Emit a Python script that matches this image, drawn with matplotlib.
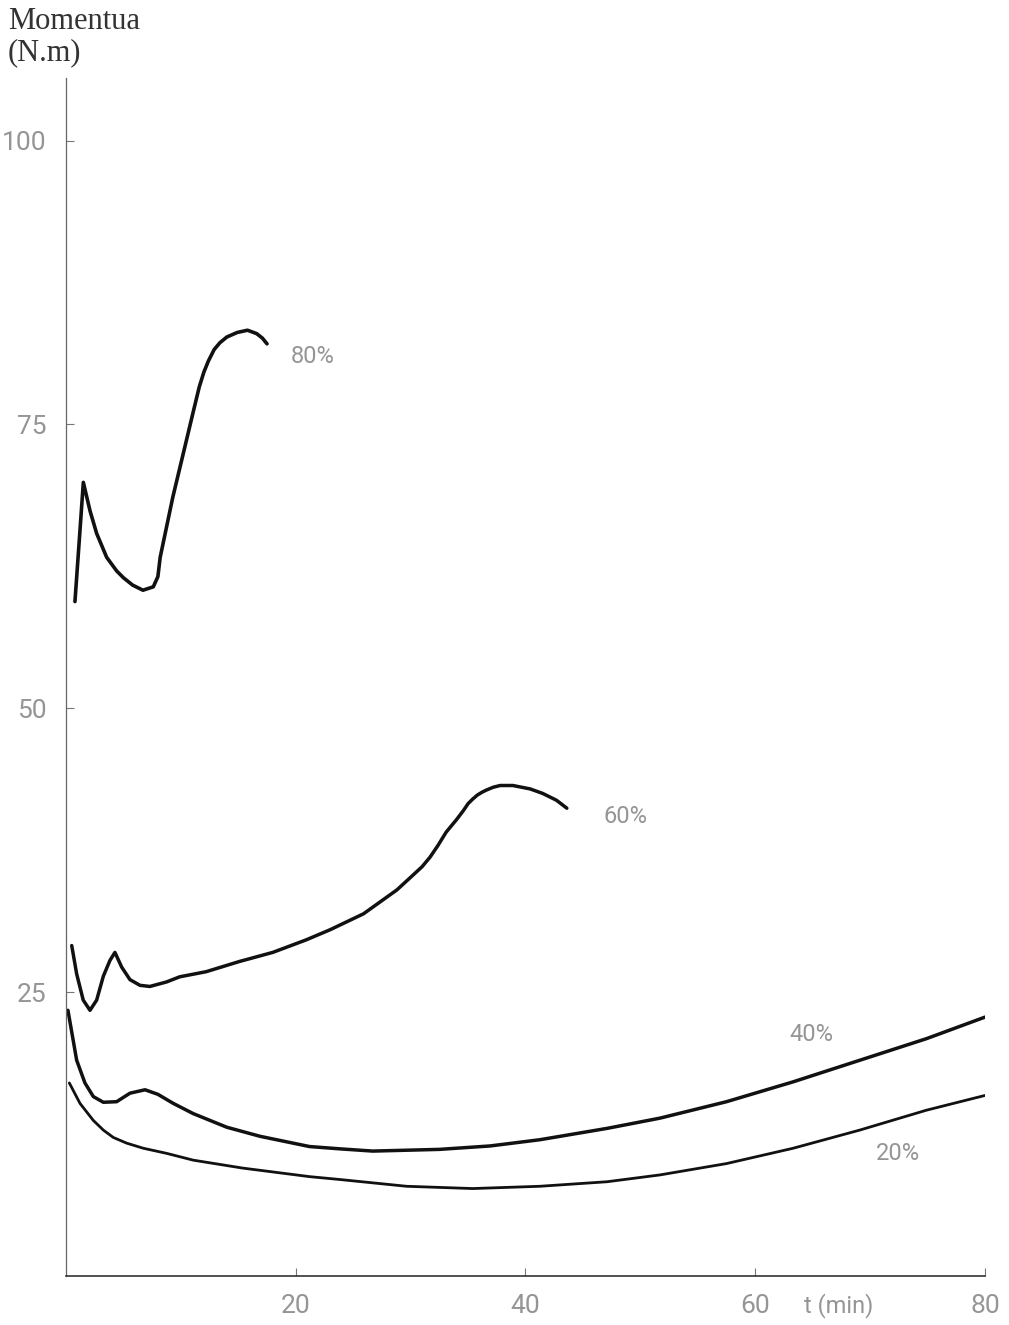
import numpy as np
import matplotlib
matplotlib.use('Agg')
import matplotlib.pyplot as plt

# ---- data (t in min, torque in N.m) ----
t_80 = [0.78, 1.22, 1.51, 2.09, 2.67, 3.54, 4.41, 5.0, 5.8, 6.7, 7.6, 8.0, 8.2, 9.3,
        10.2, 11.05, 11.6, 12.0, 12.4, 12.9, 13.4, 14.0, 14.9, 15.8, 16.6, 17.1, 17.5]
m_80 = [59.4, 65.7, 69.9, 67.4, 65.4, 63.3, 62.1, 61.5, 60.85, 60.4, 60.7, 61.6, 63.3, 68.6,
        72.4, 76.0, 78.3, 79.6, 80.6, 81.6, 82.2, 82.7, 83.1, 83.3, 83.0, 82.6, 82.1]

t_60 = [0.5, 0.93, 1.5, 2.09, 2.67, 3.25, 3.83, 4.26, 4.85, 5.57, 6.44, 7.3, 8.76, 9.9,
        12.2, 15.1, 18.0, 20.9, 23.0, 25.9, 28.8, 30.2, 31.0, 31.7, 32.4, 33.1, 34.0, 34.6,
        35.0, 35.4, 35.8, 36.2, 36.6, 37.2, 37.8, 38.9, 40.4, 41.5, 42.7, 43.6]
m_60 = [29.1, 26.6, 24.3, 23.4, 24.3, 26.4, 27.8, 28.5, 27.2, 26.1, 25.6, 25.5, 25.9, 26.35,
        26.8, 27.7, 28.5, 29.6, 30.5, 31.9, 34.0, 35.3, 36.05, 36.9, 37.95, 39.1, 40.2, 41.0,
        41.6, 42.0, 42.35, 42.6, 42.8, 43.05, 43.2, 43.2, 42.9, 42.5, 41.9, 41.2]

t_40 = [0.17, 0.93, 1.65, 2.38, 3.25, 4.41, 5.57, 6.88, 8.0, 9.34, 11.08, 14.0, 16.9,
        21.2, 23.8, 26.7, 32.5, 36.9, 41.25, 47.1, 51.7, 57.5, 63.3, 69.1, 74.9, 80.0]
m_40 = [23.4, 19.0, 17.0, 15.8, 15.3, 15.35, 16.1, 16.4, 16.0, 15.2, 14.3, 13.1, 12.3,
        11.4, 11.2, 11.0, 11.15, 11.45, 12.0, 13.0, 13.9, 15.35, 17.1, 19.0, 20.9, 22.8]

t_20 = [0.29, 1.22, 2.38, 3.25, 4.12, 5.28, 6.73, 8.76, 11.08, 15.4, 21.2, 23.8, 29.65,
        35.4, 41.25, 47.1, 51.7, 57.5, 63.3, 69.1, 74.9, 80.0]
m_20 = [17.0, 15.2, 13.7, 12.85, 12.2, 11.7, 11.25, 10.8, 10.2, 9.5, 8.75, 8.5, 7.9,
        7.7, 7.9, 8.3, 8.9, 9.9, 11.25, 12.85, 14.6, 15.9]

curve_labels = ['80%', '60%', '40%', '20%']
label_pos = [(19.6, 81.0), (46.8, 40.5), (63.0, 21.3), (70.5, 10.8)]

x_ticks = [20, 40, 60, 80]
y_ticks = [25, 50, 75, 100]

tick_font = ['Roboto', 'DejaVu Sans']
gray = '#959595'

fig = plt.figure(figsize=(10.09, 13.25), dpi=100)
ax = fig.add_axes([0.0654, 0.037, 0.9108, 0.904])

series = [(t_80, m_80, 2.6), (t_60, m_60, 2.5), (t_40, m_40, 2.5), (t_20, m_20, 2.0)]
for t, m, lw in series:
    ax.plot(t, m, color='#111111', linewidth=lw, solid_capstyle='round',
            solid_joinstyle='round')

for lab, (lx, ly) in zip(curve_labels, label_pos):
    ax.text(lx, ly, lab, color=gray, fontsize=17, family=tick_font,
            ha='left', va='center')

ax.set_xlim(0, 80)
ax.set_ylim(0, 105.5)
ax.spines['top'].set_visible(False)
ax.spines['right'].set_visible(False)
ax.spines['left'].set_color('#666666')
ax.spines['left'].set_linewidth(0.9)
ax.spines['bottom'].set_color('#333333')
ax.spines['bottom'].set_linewidth(1.2)

ax.set_xticks(x_ticks)
ax.set_yticks(y_ticks)
ax.set_xticklabels([str(v) for v in x_ticks])
ax.set_yticklabels([str(v) for v in y_ticks])
ax.tick_params(axis='both', direction='in', length=6, width=0.8, colors='#777777',
               labelcolor=gray, labelsize=19)
ax.tick_params(axis='x', pad=13)
ax.tick_params(axis='y', pad=14)
for lbl in ax.get_xticklabels() + ax.get_yticklabels():
    lbl.set_family(tick_font)

ax.text(67.3, -2.6, 't (min)', color=gray, fontsize=17, family=tick_font,
        ha='center', va='center', clip_on=False)

fig.text(0.008, 0.984, 'Momentua', family='Liberation Serif', fontsize=22,
         color='#333333', ha='left', va='center')
fig.text(0.008, 0.960, '(N.m)', family='Liberation Serif', fontsize=22,
         color='#333333', ha='left', va='center')

fig.savefig('out.png', dpi=100)
plt.close(fig)
